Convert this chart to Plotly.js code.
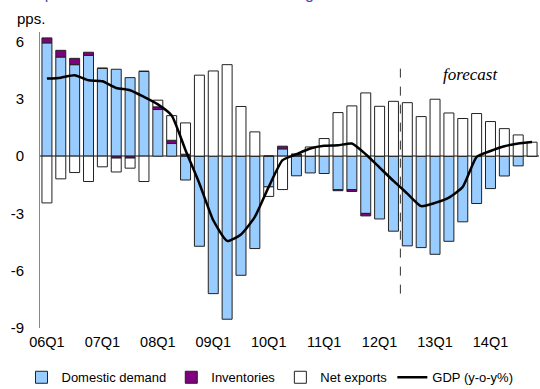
<!DOCTYPE html>
<html>
<head>
<meta charset="utf-8">
<script src="https://cdn.plot.ly/plotly-3.0.1.min.js"></script>
<style>html,body{margin:0;padding:0;background:#fff;}#chart{width:540px;height:389px;}</style>
</head>
<body>
<div id="chart"></div>
<script>
const quarters = [
  "06Q1","06Q2","06Q3","06Q4","07Q1","07Q2","07Q3","07Q4",
  "08Q1","08Q2","08Q3","08Q4","09Q1","09Q2","09Q3","09Q4",
  "10Q1","10Q2","10Q3","10Q4","11Q1","11Q2","11Q3","11Q4",
  "12Q1","12Q2","12Q3","12Q4","13Q1","13Q2","13Q3","13Q4",
  "14Q1","14Q2","14Q3","14Q4"
];
const domesticDemand = [
  5.93, 5.19, 4.79, 5.27, 4.60, 4.55, 4.11, 4.44,
  2.44, 0.66, -1.25, -4.72, -7.20, -8.54, -6.24, -4.84,
  -1.61, 0.38, -1.03, -0.88, -0.91, -1.76, -1.75, -3.00,
  -3.29, -3.93, -4.70, -4.79, -5.14, -4.46, -3.44, -2.48,
  -1.70, -1.04, -0.51, 0.00
];
const inventories = [
  0.26, 0.35, 0.33, 0.17, 0.00, -0.10, -0.10, 0.00,
  0.14, 0.17, 0.10, 0.00, 0.00, 0.00, 0.00, 0.00,
  0.00, 0.14, 0.10, 0.00, 0.00, -0.05, -0.10, -0.13,
  0.00, 0.00, 0.00, 0.00, 0.00, 0.00, 0.00, 0.00,
  0.00, 0.00, 0.00, 0.00
];
const netExports = [
  -2.45, -1.19, -0.86, -1.33, -0.56, -0.73, -0.53, -1.33,
  0.35, 1.29, 1.64, 4.24, 4.46, 4.79, 2.60, 1.27,
  -0.50, -1.75, 0.00, 0.48, 0.92, 2.28, 2.63, 3.31,
  2.61, 2.87, 2.80, 2.07, 2.98, 2.26, 1.97, 2.23,
  1.81, 1.44, 1.11, 0.73
];
const gdp = [
  4.06, 4.11, 4.23, 3.97, 3.92, 3.57, 3.45, 3.10,
  2.71, 2.13, 0.31, -1.43, -3.36, -4.44, -4.10, -3.18,
  -1.61, -0.21, 0.10, 0.40, 0.54, 0.57, 0.66, 0.10,
  -0.60, -1.30, -1.96, -2.62, -2.45, -2.17, -1.61, -0.04,
  0.27, 0.52, 0.66, 0.74
];
const tickQuarters = ["06Q1","07Q1","08Q1","09Q1","10Q1","11Q1","12Q1","13Q1","14Q1"];
const yTicks = [-9, -6, -3, 0, 3, 6];
const forecastStart = "12Q3";
const seriesNames = ["Domestic demand", "Inventories", "Net exports", "GDP (y-o-y%)"];

const font = "Liberation Sans, Arial, sans-serif";
const outline = {color: "#222", width: 1};
const fIdx = quarters.indexOf(forecastStart) - 0.5;

const traces = [
  {type: "bar", name: seriesNames[0], x: quarters, y: domesticDemand,
   marker: {color: "#99ccff", line: outline}},
  {type: "bar", name: seriesNames[1], x: quarters, y: inventories,
   marker: {color: "#800080", line: outline}},
  {type: "bar", name: seriesNames[2], x: quarters, y: netExports,
   marker: {color: "#ffffff", line: outline}},
  {type: "scatter", mode: "lines", name: seriesNames[3], x: quarters, y: gdp,
   line: {color: "#000", width: 2.5, shape: "spline", smoothing: 0.5}}
];

const layout = {
  width: 540, height: 389,
  margin: {l: 40, r: 1, t: 32, b: 61, pad: 0, autoexpand: false},
  paper_bgcolor: "#fff", plot_bgcolor: "#fff",
  font: {family: font, size: 15, color: "#000"},
  barmode: "relative",
  bargap: 0.28,
  showlegend: true,
  legend: {orientation: "h", xref: "container", yref: "container",
           x: 0.5, xanchor: "center", y: 0.03, yanchor: "middle",
           font: {family: font, size: 13, color: "#000"}, itemwidth: 30,
           tracegroupgap: 0, traceorder: "normal"},
  xaxis: {type: "category", range: [-0.5, quarters.length - 0.5],
          tickmode: "array", tickvals: tickQuarters, ticktext: tickQuarters,
          showgrid: false, showline: false, zeroline: false, ticks: "",
          tickfont: {family: font, size: 14.5}, ticklabelstandoff: 3},
  yaxis: {range: [-9, 6.5], tickmode: "array", tickvals: yTicks,
          ticktext: yTicks.map(String),
          showgrid: false, showline: true, linecolor: "#888", linewidth: 1,
          zeroline: true, zerolinecolor: "#888", zerolinewidth: 2,
          ticks: "", tickfont: {family: font, size: 15}, ticklabelstandoff: 12},
  shapes: [
    {type: "line", xref: "x", yref: "y", x0: fIdx, x1: fIdx, y0: -7.2, y1: 4.8,
     line: {color: "#333", width: 1, dash: "dash"}}
  ],
  annotations: [
    {text: "pps.", xref: "paper", yref: "paper", x: -0.05, y: 1.047,
     xanchor: "left", yanchor: "middle", showarrow: false,
     font: {family: font, size: 15, color: "#000"}},
    {text: "<i>forecast</i>", xref: "x", yref: "y", x: 30.56, y: 4.3,
     xanchor: "center", yanchor: "middle", showarrow: false,
     font: {family: "Liberation Serif, Times New Roman, serif", size: 17, color: "#000"}},
    {text: "Graph 1: Real GDP and contributions to growth", xref: "paper", yref: "paper",
     x: -0.048, y: 1.095, xanchor: "left", yanchor: "bottom", showarrow: false,
     font: {family: font, size: 16, color: "#4b4bb5"}}
  ]
};

Plotly.newPlot("chart", traces, layout, {displayModeBar: false, staticPlot: true});
</script>
</body>
</html>
